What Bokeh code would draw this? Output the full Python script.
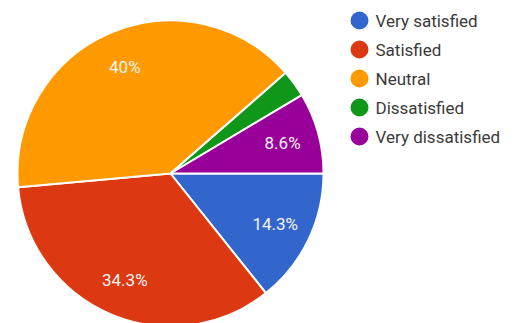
import numpy as np
from bokeh.plotting import figure
from bokeh.models import Range1d, ColumnDataSource
from bokeh.core.properties import value
from bokeh.embed import file_html
from bokeh.resources import INLINE

categories = ["Very satisfied", "Satisfied", "Neutral", "Dissatisfied", "Very dissatisfied"]
counts = [5, 12, 14, 1, 3]
labels = ["14.3%", "34.3%", "40%", "", "8.6%"]
colors = ["#3366cc", "#dc3912", "#ff9900", "#109618", "#990099"]

W, H = 517, 323
p = figure(width=W, height=H, output_backend="svg", toolbar_location=None,
           x_range=Range1d(0, W), y_range=Range1d(0, H), min_border=0)
p.axis.visible = False
p.grid.visible = False
p.outline_line_color = None
p.background_fill_color = "white"

cx, cy, R = 170, 150, 153
vals = np.array(counts, dtype=float)
frac = vals / vals.sum()
cum = np.concatenate([[0], np.cumsum(frac)])
a_start = -2 * np.pi * cum[:-1]
a_end = -2 * np.pi * cum[1:]

src = ColumnDataSource(dict(cat=categories, start=a_end, end=a_start, color=colors))
p.wedge(x=cx, y=cy, radius=R, start_angle="start", end_angle="end",
        fill_color="color", line_color="white", line_width=2, source=src)

mid = (a_start + a_end) / 2
lr = 0.76 * R
lsrc = ColumnDataSource(dict(x=cx + lr * np.cos(mid), y=cy + lr * np.sin(mid), t=labels))
p.text(x="x", y="y", text="t", source=lsrc, text_color="#f4f4f4",
       text_font=value("Roboto"), text_font_size="17px",
       text_align="center", text_baseline="middle")

# legend
lx, ly0, dy = 359, 303, 29
n = len(categories)
leg = ColumnDataSource(dict(x=[lx] * n, y=[ly0 - i * dy for i in range(n)],
                            tx=[lx + 16] * n, cat=categories, color=colors))
p.scatter(x="x", y="y", size=18, fill_color="color", line_color=None, source=leg)
p.text(x="tx", y="y", text="cat", source=leg, text_color="#3a3a3a",
       text_font=value("Roboto"), text_font_size="17px",
       text_align="left", text_baseline="middle")

open("out.html", "w").write(file_html(p, INLINE))
